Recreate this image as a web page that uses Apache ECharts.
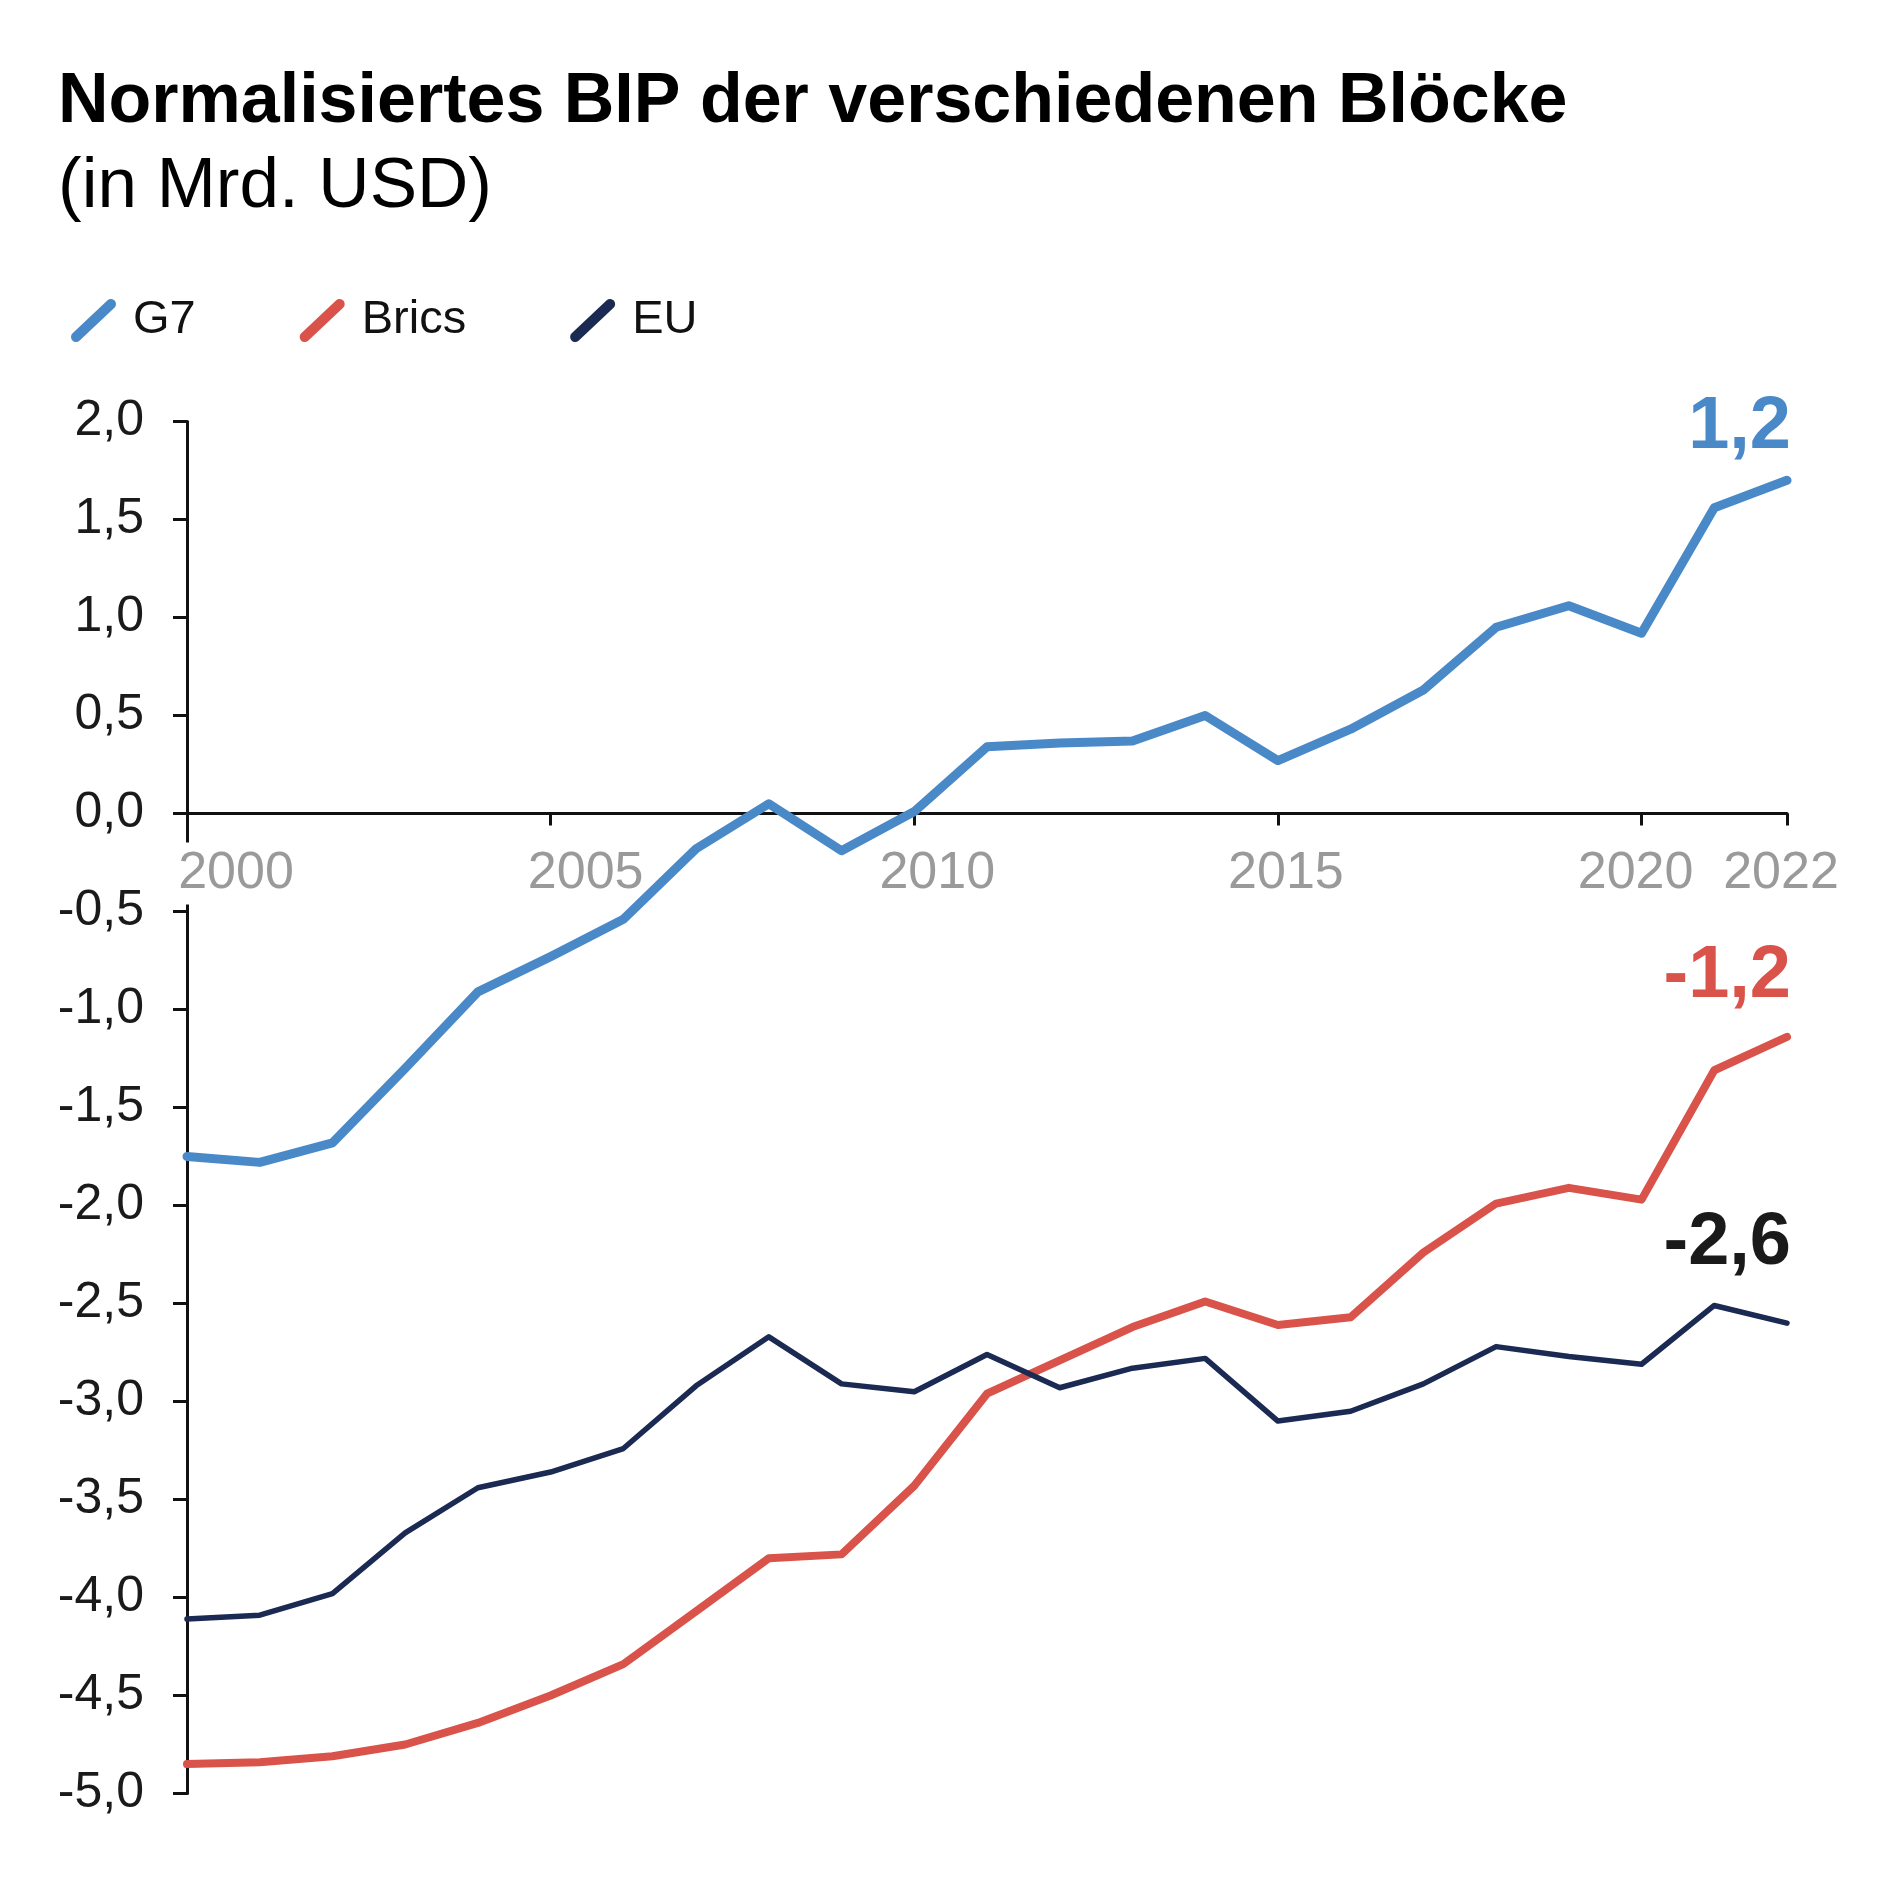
<!DOCTYPE html>
<html>
<head>
<meta charset="utf-8">
<script src="https://cdn.jsdelivr.net/npm/echarts@6/dist/echarts.min.js"></script>
<style>
html,body{margin:0;padding:0;background:#ffffff;}
#chart{width:1880px;height:1880px;}
</style>
</head>
<body>
<div id="chart"></div>
<script>
// ---- data ----
const years = [2000,2001,2002,2003,2004,2005,2006,2007,2008,2009,2010,2011,2012,2013,2014,2015,2016,2017,2018,2019,2020,2021,2022];
const g7    = [-1.75,-1.78,-1.68,-1.30,-0.91,-0.73,-0.54,-0.18,0.05,-0.19,0.01,0.34,0.36,0.37,0.50,0.27,0.43,0.63,0.95,1.06,0.92,1.56,1.70];
const brics = [-4.85,-4.84,-4.81,-4.75,-4.64,-4.50,-4.34,-4.07,-3.80,-3.78,-3.43,-2.96,-2.79,-2.62,-2.49,-2.61,-2.57,-2.24,-1.99,-1.91,-1.97,-1.31,-1.14];
const eu    = [-4.11,-4.09,-3.98,-3.67,-3.44,-3.36,-3.24,-2.92,-2.67,-2.91,-2.95,-2.76,-2.93,-2.83,-2.78,-3.10,-3.05,-2.91,-2.72,-2.77,-2.81,-2.51,-2.60];
const seriesNames = ['G7','Brics','EU'];
const endLabels = ['1,2','-1,2','-2,6'];
const xLabelYears = [2000,2005,2010,2015,2020,2022];
const xTickYears = [2005,2010,2015,2020,2022];
const titleText = 'Normalisiertes BIP der verschiedenen Blöcke';
const subtitleText = '(in Mrd. USD)';

// ---- styles ----
const colors = ['#4a89c8','#d9534a','#1b2a52'];
const labelColors = ['#4a89c8','#d9534a','#1a1a1a'];
const lineWidths = [9, 8, 5.5];
const labelOffsets = [[4,-16],[4,-23],[4,-43]];
const xLabelShift = {2000:49, 2005:35, 2010:23, 2015:8, 2020:-6, 2022:-6};
const iconPath = 'path://M1.57,34.36 L36.57,1.36 A5,5 0 0 1 43.43,8.64 L8.43,41.64 A5,5 0 0 1 1.57,34.36 Z';
const SANS = "'Liberation Sans', Arial, sans-serif";

const allSeries = [g7, brics, eu];

const chart = echarts.init(document.getElementById('chart'), null, {renderer:'canvas'});

const rich = {
  t: {fontFamily:SANS, fontSize:52, color:'#9a9a9a', lineHeight:60, padding:[5,8]},
  tb: {fontFamily:SANS, fontSize:52, color:'#9a9a9a', lineHeight:60, padding:[5,8], backgroundColor:'#ffffff'}
};
xLabelYears.forEach(y => {
  rich['s' + y] = {width: Math.abs(xLabelShift[y]) * 2, lineHeight:60};
});

const series = allSeries.map((vals, si) => ({
  name: seriesNames[si],
  type: 'line',
  showSymbol: true,
  symbol: 'circle',
  symbolSize: 0,
  z: 2 + si,
  silent: true,
  itemStyle: {color: colors[si]},
  lineStyle: {color: colors[si], width: lineWidths[si], cap: 'round', join: 'round'},
  emphasis: {disabled: true},
  data: years.map((yr, i) => {
    const item = {value: [yr, vals[i]]};
    if (i === years.length - 1) {
      item.label = {
        show: true,
        formatter: endLabels[si],
        position: 'top',
        distance: 0,
        align: 'right',
        offset: labelOffsets[si],
        fontFamily: SANS,
        fontWeight: 'bold',
        fontSize: 74,
        lineHeight: 74,
        color: labelColors[si]
      };
    }
    return item;
  })
}));

chart.setOption({
  backgroundColor: '#ffffff',
  animation: false,
  title: {
    text: titleText,
    subtext: subtitleText,
    left: 53,
    top: 58,
    itemGap: 5,
    textStyle: {fontFamily:SANS, fontWeight:'bold', fontSize:70, lineHeight:80, color:'#000000'},
    subtextStyle: {fontFamily:SANS, fontWeight:'normal', fontSize:71, lineHeight:78, color:'#000000'}
  },
  legend: {
    data: seriesNames,
    left: 66,
    top: 292,
    icon: iconPath,
    itemWidth: 45,
    itemHeight: 43,
    itemGap: 104,
    selectedMode: false,
    textStyle: {fontFamily:SANS, fontSize:47, color:'#111111', padding:[0,0,0,12]}
  },
  grid: {left: 187, right: 93, top: 421.5, bottom: 86.5, containLabel: false},
  xAxis: {
    type: 'value',
    min: 2000,
    max: 2022,
    z: 1,
    splitLine: {show: false},
    axisLine: {show: true, onZero: true, lineStyle: {color:'#111111', width: 3}},
    axisTick: {show: true, customValues: xTickYears, length: 12, lineStyle: {color:'#111111', width: 3}},
    axisLabel: {
      show: true,
      customValues: xLabelYears,
      margin: -950,
      formatter: function (v) {
        const y = Math.round(v);
        const d = xLabelShift[y] || 0;
        const tok = y === 2000 ? 'tb' : 't';
        if (d > 0) return '{s' + y + '|}{' + tok + '|' + y + '}';
        if (d < 0) return '{' + tok + '|' + y + '}{s' + y + '|}';
        return '{' + tok + '|' + y + '}';
      },
      rich: rich
    }
  },
  yAxis: {
    type: 'value',
    min: -5,
    max: 2,
    interval: 0.5,
    z: 0,
    splitLine: {show: false},
    axisLine: {show: true, onZero: false, lineStyle: {color:'#111111', width: 3}},
    axisTick: {show: true, length: 14, lineStyle: {color:'#111111', width: 3}},
    axisLabel: {
      margin: 43,
      fontFamily: SANS,
      fontSize: 50,
      color: '#1a1a1a',
      formatter: v => v.toFixed(1).replace('.', ',')
    }
  },
  series: series
});
</script>
</body>
</html>
